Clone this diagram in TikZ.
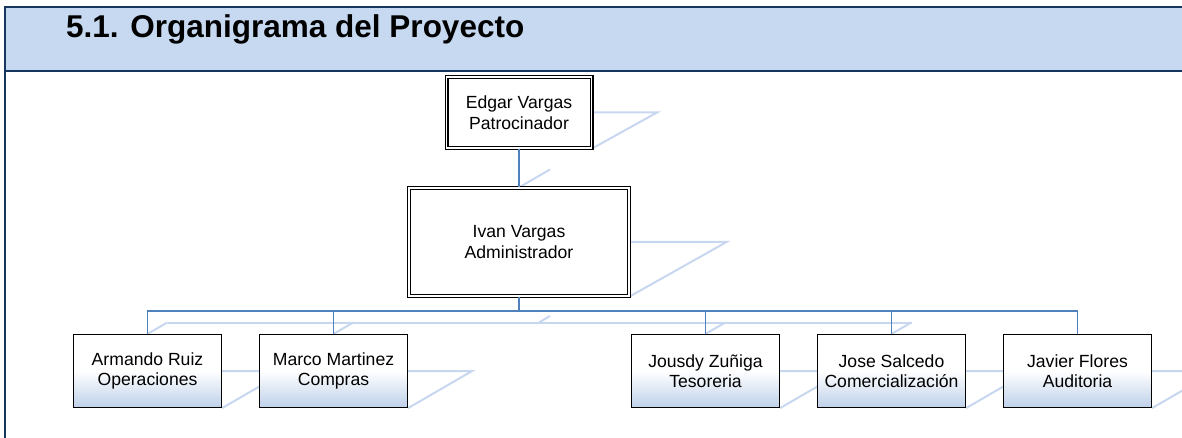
\documentclass[tikz,border=0pt]{standalone}
\usepackage{fontspec}
\setmainfont{Liberation Sans}
\usetikzlibrary{calc,backgrounds}
\definecolor{bandblue}{RGB}{198,217,241}
\definecolor{bandline}{RGB}{23,54,93}
\definecolor{linkblue}{RGB}{79,129,189}
\definecolor{ghostblue}{RGB}{200,215,240}
\definecolor{boxblue}{RGB}{190,208,234}
\begin{document}
\begin{tikzpicture}[x=1pt, y=-1pt,
    every node/.style={font=\fontsize{17.6}{20.5}\selectfont, align=center, inner sep=0pt},
    chief/.style={draw, double, double distance=1.8pt, line width=1.1pt, fill=white},
    staff/.style={draw, line width=1.2pt, top color=white, bottom color=boxblue, middle color=white,
        minimum width=148pt, minimum height=73pt},
    link/.style={draw=linkblue, line width=1.8pt},
    ghost/.style={draw=ghostblue, line width=2pt}]
    \useasboundingbox (0,0) rectangle (1182,438);
    \fill[bandblue] (5,7) rectangle (1182,71);
    \draw[bandline, line width=2pt] (1182,7) -- (5,7) -- (5,438);
    \draw[bandline, line width=2pt] (5,71) -- (1182,71);
    \node[anchor=base west, font=\fontsize{31.5}{36}\selectfont\bfseries] (title) at (66,38) {5.1. Organigrama del Proyecto};

    \node[chief, minimum width=145pt, minimum height=71pt] (edgar) at (519,112.5) {Edgar Vargas\\Patrocinador};
    \node[chief, minimum width=220pt, minimum height=108pt] (ivan) at (519,242) {Ivan Vargas\\Administrador};
    \node[staff] (armando) at (147.5,371) {Armando Ruiz\\Operaciones};
    \node[staff] (marco) at (333.5,371) {Marco Martinez\\Compras};
    \node[staff] (jousdy) at (705.5,371) {Jousdy Zuñiga\\Tesoreria};
    \node[staff] (jose) at (891.5,371) {Jose Salcedo\\Comercialización};
    \node[staff] (javier) at (1077.5,371) {Javier Flores\\Auditoria};

    \coordinate (bus) at (519,311);
    \draw[link] (edgar) -- (ivan);
    \draw[link] (ivan) -- (bus);
    \draw[link] (armando.north) |- (bus) -| (javier.north);
    \foreach \n in {marco,jousdy,jose}
        \draw[link] (\n.north) -- (\n.north |- bus);

    \begin{scope}[on background layer]
        \draw[ghost] (edgar.east) -- ++(65,0) -- (edgar.south east);
        \draw[ghost] (ivan.east) -- ++(97,0) -- (ivan.south east);
        \foreach \n in {armando,marco,jousdy,jose,javier}
            \draw[ghost] (\n.east) -- ++(64,0) -- (\n.south east);
        \draw[ghost] (ivan.north) -- ++(31,-18);
        \draw[ghost] ($(bus)+(20,11.5)$) -- ++(11,-6.5);
        \draw[ghost] ($(armando.north |- bus)+(20,11.5)$) -- ($(jose.north |- bus)+(20,11.5)$);
        \foreach \n in {armando,marco,jousdy,jose}
            \draw[ghost] (\n.north) -- ++(20,-11.5);
    \end{scope}
\end{tikzpicture}
\end{document}
